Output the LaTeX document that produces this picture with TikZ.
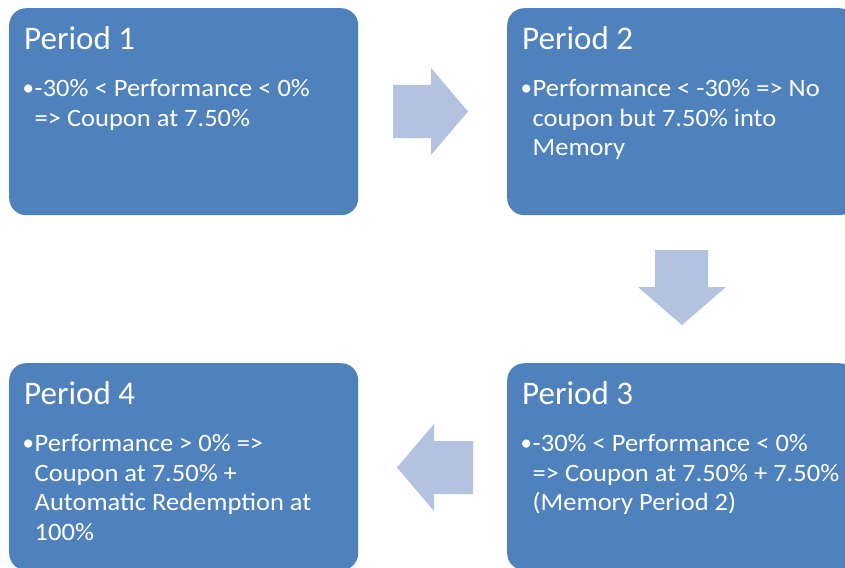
\documentclass[tikz,border=0pt]{standalone}
\usepackage{fontspec}
\setmainfont{Carlito}
\newfontfamily\bodyfont[FakeStretch=1.06]{Carlito}
\definecolor{boxblue}{HTML}{4F81BD}
\definecolor{arrowblue}{HTML}{B3C2DE}
\begin{document}
\begin{tikzpicture}[x=1pt,y=-1pt,
  box/.style={fill=boxblue, rounded corners=17pt, inner sep=0, minimum width=349pt, minimum height=207pt, anchor=north west},
  ttl/.style={anchor=base west, inner sep=0, text=white, font=\fontsize{33}{40}\selectfont},
  bodytext/.style={anchor=base west, inner sep=0, text=white, font=\bodyfont\fontsize{25}{29.5}\selectfont, align=left},
  bul/.style={anchor=base west, inner sep=0, text=white, font=\fontsize{23}{26}\selectfont},
  blockarrow/.style={fill=arrowblue}]
\useasboundingbox (0,0) rectangle (845,567);
\begin{scope}
\clip (0,0) rectangle (845,567);
\node[box] (b1) at (9,8) {};
\node[box] (b2) at (507,8) {};
\node[box] (b3) at (507,363) {};
\node[box] (b4) at (9,363) {};
\end{scope}
% titles
\node[ttl] (t1) at (24,49.3) {Period 1};
\node[ttl] (t2) at (522,49.3) {Period 2};
\node[ttl] (t3) at (522,404.3) {Period 3};
\node[ttl] (t4) at (24,404.3) {Period 4};
% bullets
\node[bul] (u1) at (22.5,95.7) {•};
\node[bul] (u2) at (520.5,95.7) {•};
\node[bul] (u3) at (520.5,450.7) {•};
\node[bul] (u4) at (22.5,450.7) {•};
% bodies (anchored at the baseline of their last line)
\node[bodytext] (x1) at (34.5,126.2) {-30\% < Performance < 0\%\\=> Coupon at 7.50\%};
\node[bodytext] (x2) at (532.5,155.7) {Performance < -30\% => No\\coupon but 7.50\% into\\Memory};
\node[bodytext] (x3) at (532.5,510.7) {-30\% < Performance < 0\%\\=> Coupon at 7.50\% + 7.50\%\\(Memory Period 2)};
\node[bodytext] (x4) at (34.5,540.2) {Performance > 0\% =>\\Coupon at 7.50\% +\\Automatic Redemption at\\100\%};
% block arrows
\fill[blockarrow] (393,85) -- (431,85) -- (431,68) -- (468,111.5) -- (431,155) -- (431,138) -- (393,138) -- cycle;
\fill[blockarrow] (655,250) -- (708,250) -- (708,287) -- (726,287) -- (682,325) -- (638,287) -- (655,287) -- cycle;
\fill[blockarrow] (473,441) -- (434,441) -- (434,424) -- (397,467.5) -- (434,511) -- (434,494) -- (473,494) -- cycle;
\end{tikzpicture}
\end{document}
